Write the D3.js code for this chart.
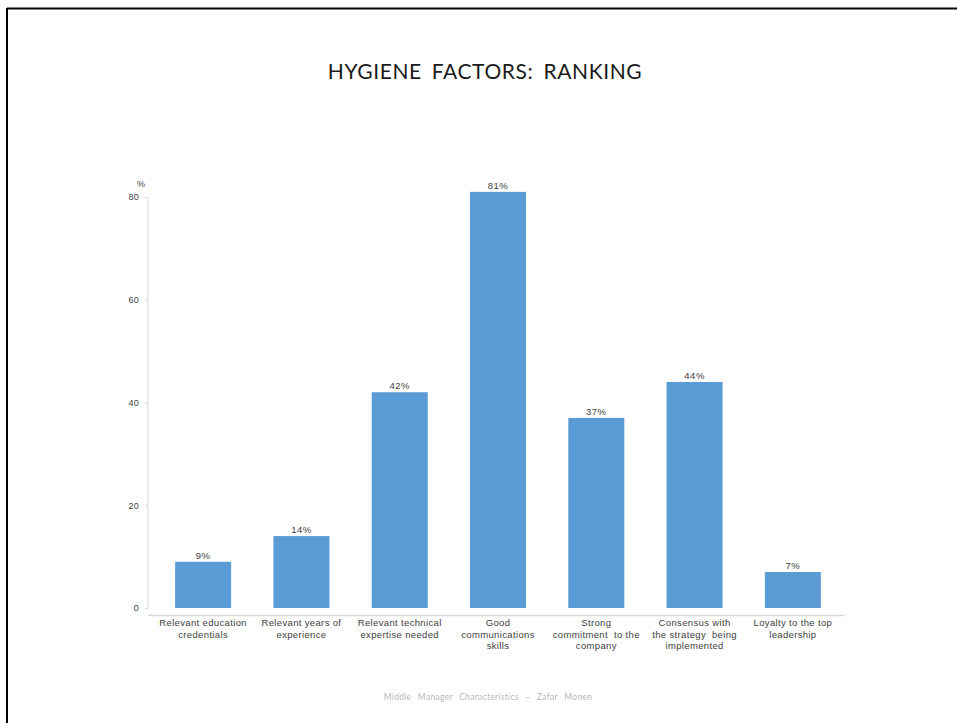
<!DOCTYPE html>
<html>
<head>
<meta charset="utf-8">
<script src="https://cdn.jsdelivr.net/npm/d3@7"></script>
<style>
  html, body { margin: 0; padding: 0; background: #fff; }
  svg { display: block; }
</style>
</head>
<body>
<svg id="chart" width="957" height="723"></svg>
<script>
// Hygiene factors ranked by share of respondents (%)
const categories = [
  ["Relevant education", "credentials"],
  ["Relevant years of", "experience"],
  ["Relevant technical", "expertise needed"],
  ["Good", "communications", "skills"],
  ["Strong", "commitment  to the", "company"],
  ["Consensus with", "the strategy  being", "implemented"],
  ["Loyalty to the top", "leadership"]
];
const values = [9, 14, 42, 81, 37, 44, 7];
const yTicks = [0, 20, 40, 60, 80];

const svg = d3.select("#chart");
const labelFont = "'Liberation Sans', Arial, sans-serif";

// Page frame (top and left edges)
svg.append("line").attr("x1", 7).attr("x2", 957).attr("y1", 8.5).attr("y2", 8.5)
  .attr("stroke", "#000").attr("stroke-width", 2);
svg.append("line").attr("x1", 7).attr("x2", 7).attr("y1", 8).attr("y2", 723)
  .attr("stroke", "#000").attr("stroke-width", 2);

// Title
svg.append("text")
  .attr("x", 485).attr("y", 79)
  .attr("text-anchor", "middle")
  .attr("font-family", "Lato, 'Open Sans', sans-serif")
  .attr("font-size", 21)
  .attr("letter-spacing", 0.6)
  .attr("word-spacing", 4)
  .attr("fill", "#1a1a1a")
  .text("HYGIENE FACTORS: RANKING");

const x = d3.scaleBand()
  .domain(d3.range(categories.length))
  .range([154, 842])
  .paddingInner(0.43)
  .paddingOuter(0.215);

const y = d3.scaleLinear().domain([0, 80]).range([608, 197]);

// Y axis
const yAxis = svg.append("g")
  .attr("transform", "translate(148,0)")
  .call(d3.axisLeft(y).tickValues(yTicks).tickSize(3).tickPadding(6));
yAxis.select(".domain").attr("stroke", "#d9d9d9").attr("d", `M0,${y(80)}V${y(0)}`);
yAxis.selectAll(".tick line").attr("stroke", "#d9d9d9");
yAxis.selectAll(".tick text")
  .attr("font-family", labelFont)
  .attr("font-size", 9)
  .attr("letter-spacing", 0.3)
  .attr("fill", "#404040");

svg.append("text")
  .attr("x", 141).attr("y", 187)
  .attr("text-anchor", "middle")
  .attr("font-family", labelFont)
  .attr("font-size", 9)
  .attr("fill", "#404040")
  .text("%");

// X axis baseline
svg.append("line")
  .attr("x1", 148).attr("x2", 845)
  .attr("y1", 615.5).attr("y2", 615.5)
  .attr("stroke", "#d9d9d9").attr("stroke-width", 1.5);

// Bars
svg.append("g").selectAll("rect")
  .data(values)
  .join("rect")
  .attr("x", (d, i) => x(i))
  .attr("y", d => y(d))
  .attr("width", x.bandwidth())
  .attr("height", d => y(0) - y(d))
  .attr("fill", "#5B9BD5");

// Value labels
svg.append("g").selectAll("text")
  .data(values)
  .join("text")
  .attr("x", (d, i) => x(i) + x.bandwidth() / 2)
  .attr("y", d => y(d) - 3)
  .attr("text-anchor", "middle")
  .attr("font-family", labelFont)
  .attr("font-size", 9.5)
  .attr("letter-spacing", 0.5)
  .attr("fill", "#404040")
  .text(d => d + "%");

// Category labels
const catG = svg.append("g").selectAll("text")
  .data(categories)
  .join("text")
  .attr("x", (d, i) => x(i) + x.bandwidth() / 2)
  .attr("y", 626)
  .attr("text-anchor", "middle")
  .attr("font-family", labelFont)
  .attr("font-size", 9.5)
  .attr("letter-spacing", 0.35)
  .attr("fill", "#404040");
catG.each(function(lines, i) {
  d3.select(this).selectAll("tspan")
    .data(lines)
    .join("tspan")
    .attr("x", x(i) + x.bandwidth() / 2)
    .attr("dy", (l, j) => j === 0 ? 0 : 11.5)
    .style("white-space", "pre")
    .text(l => l);
});

// Footer
svg.append("text")
  .attr("x", 488).attr("y", 700)
  .attr("text-anchor", "middle")
  .attr("font-family", "Lato, 'Open Sans', sans-serif")
  .attr("font-size", 8.5)
  .attr("letter-spacing", 0.3)
  .attr("word-spacing", 4)
  .attr("fill", "#b8b8b8")
  .text("Middle Manager Characteristics \u2013 Zafar Monen");
</script>
</body>
</html>
